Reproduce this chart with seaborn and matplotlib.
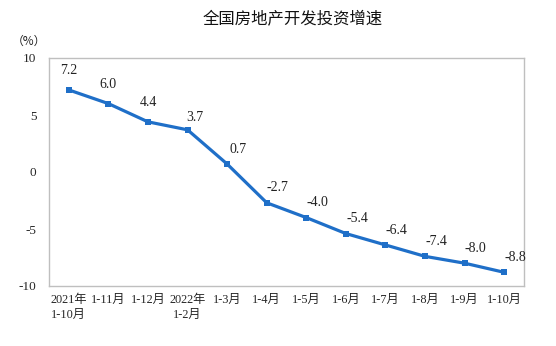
import matplotlib
matplotlib.use("Agg")
import matplotlib.pyplot as plt
import seaborn as sns
import pandas as pd

categories = ["2021年\n1-10月", "1-11月", "1-12月", "2022年\n1-2月", "1-3月", "1-4月",
              "1-5月", "1-6月", "1-7月", "1-8月", "1-9月", "1-10月"]
values = [7.2, 6.0, 4.4, 3.7, 0.7, -2.7, -4.0, -5.4, -6.4, -7.4, -8.0, -8.8]
yticks = [-10, -5, 0, 5, 10]
title = "全国房地产开发投资增速"

sns.set_style("white")
serif = ["Liberation Serif", "Noto Sans CJK SC", "DejaVu Sans"]
plt.rcParams['font.family'] = serif

df = pd.DataFrame({"x": range(len(values)), "y": values})

fig = plt.figure(figsize=(5.56, 3.46), dpi=100)
ax = fig.add_axes([49/556, 1-286/346, (524-49)/556, (286-58)/346])
color = "#1f6fc8"
sns.lineplot(data=df, x="x", y="y", ax=ax, color=color, linewidth=2.3,
             marker="s", markersize=4.8, markeredgewidth=0, markerfacecolor=color)

ax.set_xlim(-0.5, len(values) - 0.5)
ax.set_ylim(-10, 10)
ax.set_yticks(yticks)
ax.set_yticklabels([str(v) for v in yticks], fontsize=9.5)
ax.set_xticks(range(len(values)))
ax.set_xticklabels(categories, fontsize=8.8, linespacing=1.25)
ax.tick_params(axis="x", length=0, pad=6)
ax.tick_params(axis="y", length=0, pad=9)
# minor ticks at category boundaries, pointing inward
ax.set_xticks([i + 0.5 for i in range(len(values) - 1)], minor=True)
ax.tick_params(axis="x", which="minor", direction="in", length=4, color="#bfbfbf", width=1)
ax.set_xlabel("")
ax.set_ylabel("")
for s in ax.spines.values():
    s.set_color("#bfbfbf")
    s.set_linewidth(1.0)

for i, v in enumerate(values):
    if i < 3:
        dx, dy = 0, 9
    elif i == 3:
        dx, dy = 5, 4
    else:
        dx, dy = 8, 6
    ax.annotate(f"{v:.1f}", (i, v), xytext=(dx, dy), textcoords="offset points",
                ha="center", va="bottom", fontsize=10, color="#222222")

fig.text(293/556, 1-20/346, title, ha="center", va="center", fontsize=11.8,
         family=["Noto Sans CJK SC", "DejaVu Sans"], color="#111111")
fig.text(29/556, 1-41/346, "（%）", ha="center", va="center", fontsize=8.5,
         family=["Noto Sans CJK SC", "DejaVu Sans"], color="#222222")

fig.savefig("out.png", dpi=100)
